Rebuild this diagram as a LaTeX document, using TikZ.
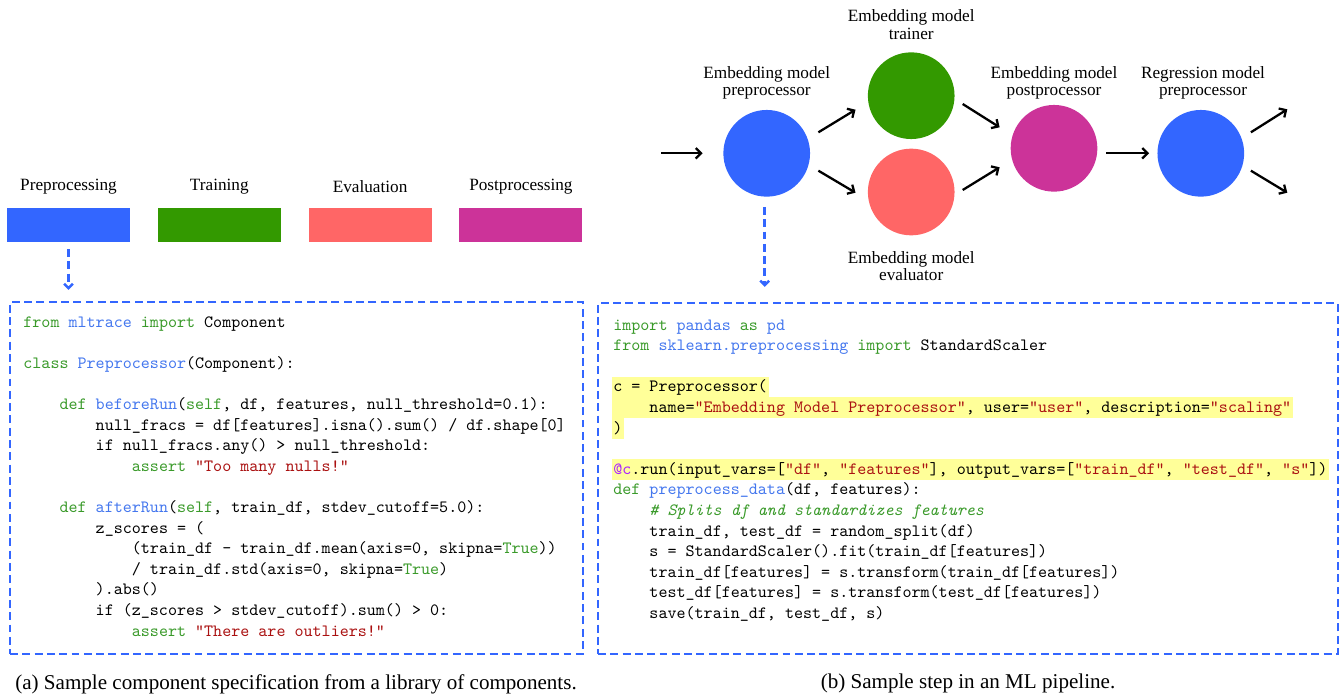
\documentclass[tikz,border=0pt]{standalone}
\usepackage{fontspec}
\setmainfont{Liberation Serif}
\usepackage{tikz}
\usetikzlibrary{calc,arrows.meta}
\definecolor{prepblue}{HTML}{3366FF}
\definecolor{traingreen}{HTML}{339900}
\definecolor{evalred}{HTML}{FF6666}
\definecolor{postpurple}{HTML}{CC3399}
\definecolor{kwgreen}{HTML}{3A9A2A}
\definecolor{nameblue}{HTML}{4477EE}
\definecolor{strred}{HTML}{AA1111}
\definecolor{decopurple}{HTML}{AA22FF}
\definecolor{hlyellow}{HTML}{FFFF99}
\tikzset{
  legend bar/.style={minimum width=2.46cm, minimum height=0.68cm, inner sep=0pt},
  legend text/.style={font=\fontsize{9.8}{9.9}\selectfont, inner sep=0pt},
  stage/.style={circle, minimum size=1.734cm, inner sep=0pt},
  stage label/.style={align=center, font=\fontsize{9.8}{9.9}\selectfont, inner sep=0pt},
  flow/.style={-{Straight Barb[length=3pt,width=6pt]}, line width=1.3pt},
  link/.style={-{Straight Barb[length=2.5pt,width=5pt]}, draw=prepblue, line width=1.4pt,
       dash pattern=on 4.5pt off 2.5pt},
  code box/.style={draw=prepblue, line width=1.4pt, dash pattern=on 4.5pt off 2.5pt},
  code line/.style={anchor=base west, inner xsep=1pt, inner ysep=0pt,
       text height=8.5pt, text depth=3.2pt,
       font=\ttfamily\fontsize{9.8}{11.7}\selectfont},
  caption/.style={font=\fontsize{12}{14}\selectfont, inner sep=0pt}
}
\def\Kw#1{\textcolor{kwgreen}{#1}}
\def\Nm#1{\textcolor{nameblue}{#1}}
\def\Str#1{\textcolor{strred}{#1}}
\def\Deco#1{\textcolor{decopurple}{#1}}
\def\Cmt#1{\textcolor{kwgreen}{\itshape #1}}
\def\CodeLine#1#2#3{%
  \node[code line] (\CodeBlock#1) at (0,{20.6*#1})
    {\hspace*{#2\dimexpr0.525em\relax}#3};
}
\def\CodeLineHL#1#2#3{%
  \node[code line, fill=hlyellow] (\CodeBlock#1) at (0,{20.6*#1})
    {\hspace*{#2\dimexpr0.525em\relax}#3};
}

\begin{document}
\begin{tikzpicture}[x=0.02cm, y=-0.02cm]
\useasboundingbox (0,0) rectangle (1344,696);

% (a) legend of component kinds
\foreach \name/\col/\txt [count=\i from 0] in
    {prep/prepblue/Preprocessing, train/traingreen/Training,
     eval/evalred/Evaluation, post/postpurple/Postprocessing} {
  \node[legend bar, fill=\col] (\name-bar) at ({68.5+150.8*\i},224.7) {};
  \node[legend text] (\name-text) at ({68.5+150.8*\i},186.5) {\txt};
}

\node[code box, minimum width=11.46cm, minimum height=7.04cm] (leftbox) at (296.5,478) {};
\draw[link] ([shift={(0,7)}]prep-bar.south) -- ($(prep-bar.south |- leftbox.north)+(0,-11)$);

\begin{scope}[shift={(21.3,327)}]
\def\CodeBlock{a}
\CodeLine{0}{0}{\Kw{from} \Nm{mltrace} \Kw{import} Component}
\CodeLine{2}{0}{\Kw{class} \Nm{Preprocessor}(Component):}
\CodeLine{4}{4}{\Kw{def} \Nm{beforeRun}(\Kw{self}, df, features, null\_threshold=0.1):}
\CodeLine{5}{8}{null\_fracs = df[features].isna().sum() / df.shape[0]}
\CodeLine{6}{8}{if null\_fracs.any() > null\_threshold:}
\CodeLine{7}{12}{\Kw{assert} \Str{"Too many nulls!"}}
\CodeLine{9}{4}{\Kw{def} \Nm{afterRun}(\Kw{self}, train\_df, stdev\_cutoff=5.0):}
\CodeLine{10}{8}{z\_scores = (}
\CodeLine{11}{12}{(train\_df - train\_df.mean(axis=0, skipna=\Kw{True}))}
\CodeLine{12}{12}{/ train\_df.std(axis=0, skipna=\Kw{True})}
\CodeLine{13}{8}{).abs()}
\CodeLine{14}{8}{if (z\_scores > stdev\_cutoff).sum() > 0:}
\CodeLine{15}{12}{\Kw{assert} \Str{"There are outliers!"}}
\end{scope}

\node[caption] (capa) at (296,684) {(a) Sample component specification from a library of components.};

% (b) pipeline
\node[stage, fill=prepblue] (pre) at (766.7,153.3) {};
\node[stage, fill=traingreen] (trainer) at (911.2,95.7) {};
\node[stage, fill=evalred] (evaluator) at (911.2,192) {};
\node[stage, fill=postpurple] (post) at (1054,148.3) {};
\node[stage, fill=prepblue] (reg) at (1200.8,153.3) {};

\node[stage label] (pre-label) at (766.7,83) {Embedding model\\preprocessor};
\node[stage label] (trainer-label) at (911.2,24.5) {Embedding model\\trainer};
\node[stage label] (evaluator-label) at (911.2,266.3) {Embedding model\\evaluator};
\node[stage label] (post-label) at (1054,83) {Embedding model\\postprocessor};
\node[stage label] (reg-label) at (1203,83) {Regression model\\preprocessor};

\coordinate (in) at (661,153.3);
\coordinate (out1) at (1287.3,109.3);
\coordinate (out2) at (1287.3,192.7);
\draw[flow] (in) -- ([shift={(-20.4,0)}]pre.west);
\draw[flow] ([shift={(8,-21)}]pre.east) -- ([shift={(-12,14)}]trainer.west);
\draw[flow] ([shift={(8,17.4)}]pre.east) -- ([shift={(-12,0.7)}]evaluator.west);
\draw[flow] ([shift={(7.8,8.3)}]trainer.east) -- ([shift={(-10.7,-21)}]post.west);
\draw[flow] ([shift={(7.8,-2)}]evaluator.east) -- ([shift={(-10.7,19)}]post.west);
\draw[flow] ([shift={(8.4,5)}]post.east) -- ([shift={(-8,0)}]reg.west);
\draw[flow] ([shift={(6.4,-21)}]reg.east) -- (out1);
\draw[flow] ([shift={(6.4,17.4)}]reg.east) -- (out2);

\node[code box, minimum width=14.8cm, minimum height=7.02cm] (rightbox) at (968,478.5) {};
\draw[link] ([shift={(-2,10)}]pre.south) -- ($(pre.south |- rightbox.north)+(-2,-15)$);

\begin{scope}[shift={(611.2,330)}]
\def\CodeBlock{b}
\CodeLine{0}{0}{\Kw{import} \Nm{pandas} \Kw{as} \Nm{pd}}
\CodeLine{1}{0}{\Kw{from} \Nm{sklearn.preprocessing} \Kw{import} StandardScaler}
\CodeLineHL{3}{0}{c = Preprocessor(}
\CodeLineHL{4}{4}{name=\Str{"Embedding Model Preprocessor"}, user=\Str{"user"}, description=\Str{"scaling"}}
\CodeLineHL{5}{0}{)}
\CodeLineHL{7}{0}{\Deco{@c}.run(input\_vars=[\Str{"df"}, \Str{"features"}], output\_vars=[\Str{"train\_df"}, \Str{"test\_df"}, \Str{"s"}])}
\CodeLine{8}{0}{\Kw{def} \Nm{preprocess\_data}(df, features):}
\CodeLine{9}{4}{\Cmt{\# Splits df and standardizes features}}
\CodeLine{10}{4}{train\_df, test\_df = random\_split(df)}
\CodeLine{11}{4}{s = StandardScaler().fit(train\_df[features])}
\CodeLine{12}{4}{train\_df[features] = s.transform(train\_df[features])}
\CodeLine{13}{4}{test\_df[features] = s.transform(test\_df[features])}
\CodeLine{14}{4}{save(train\_df, test\_df, s)}
\end{scope}

\node[caption] (capb) at (968,683) {(b) Sample step in an ML pipeline.};
\end{tikzpicture}
\end{document}
